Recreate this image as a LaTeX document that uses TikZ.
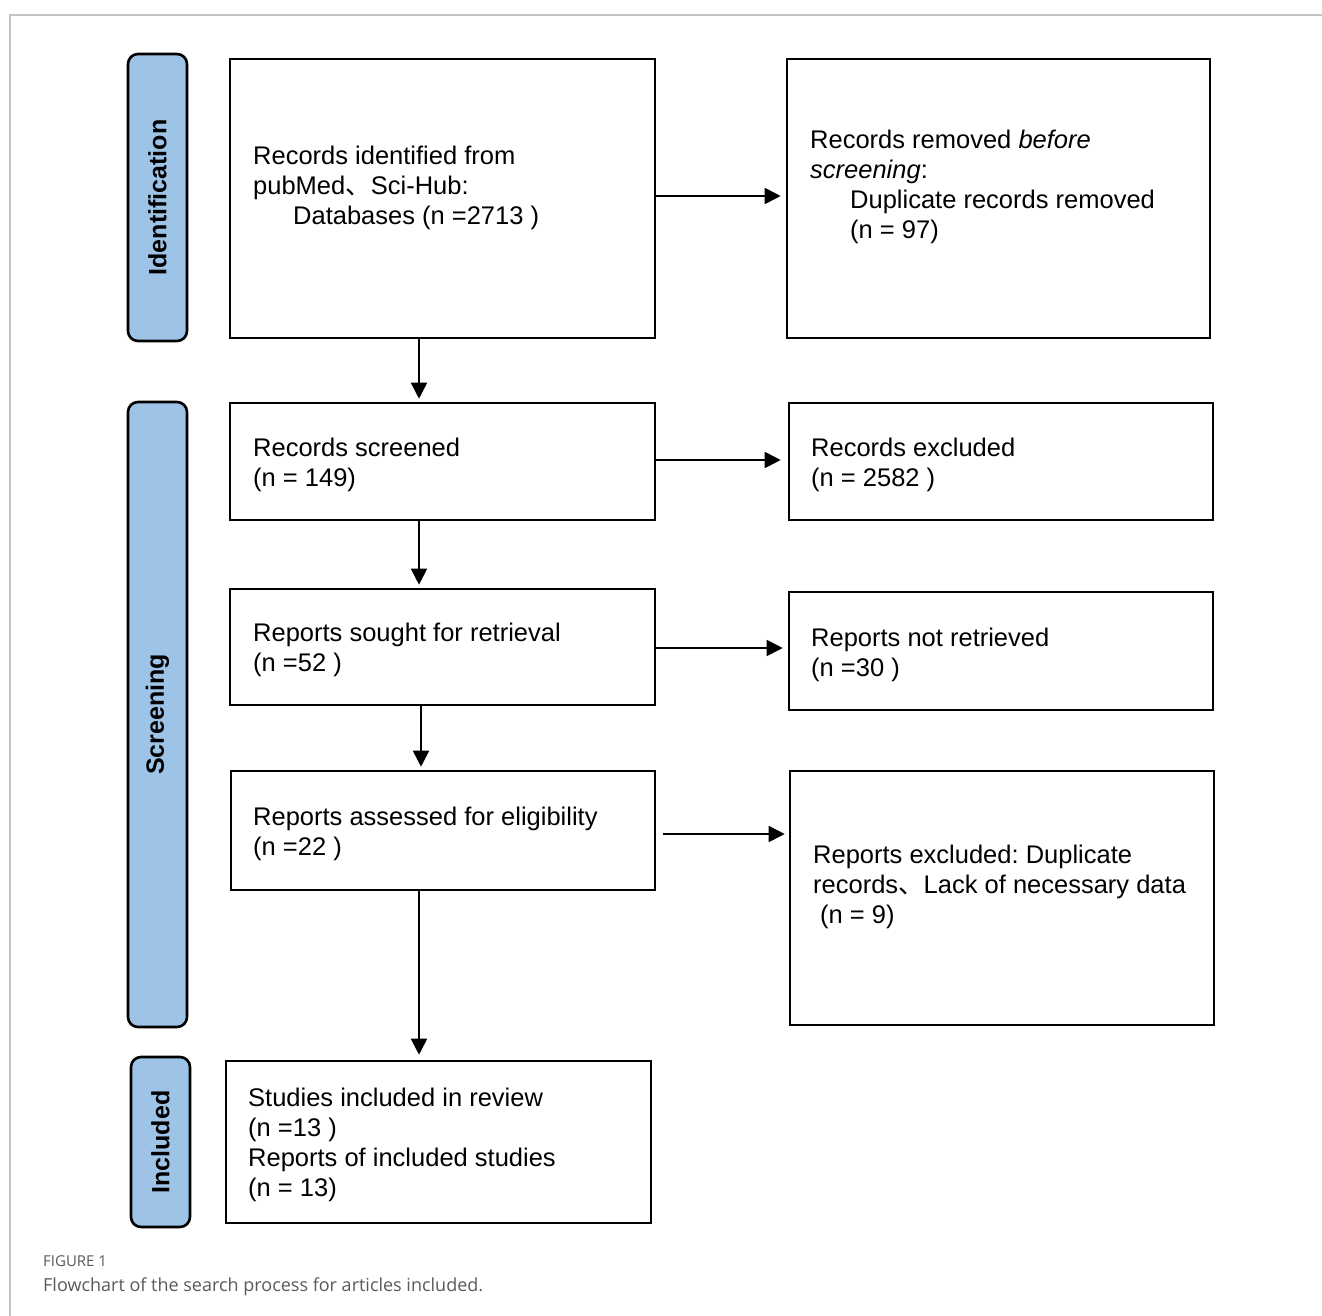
\documentclass[tikz,border=0pt]{standalone}
\usepackage{fontspec}
\setmainfont{Liberation Sans}
\newfontfamily\cjk{Noto Sans CJK SC}
\newfontfamily\capfont{Open Sans}
\usetikzlibrary{arrows.meta}
\definecolor{barblue}{HTML}{9DC3E6}
\definecolor{capgray}{HTML}{5A5A5A}
\definecolor{framegray}{HTML}{C4C4C4}
\frenchspacing
\tikzset{
  box/.style={draw=black, line width=2.6pt, inner sep=0pt, fill=white},
  bar/.style={draw=black, line width=2.6pt, fill=barblue, rounded corners=10pt, inner sep=0pt, rotate=90,
    font=\bfseries\fontsize{25}{30}\selectfont},
  tx/.style={anchor=base west, inner sep=0pt, align=left, font=\fontsize{25.5}{30}\selectfont\frenchspacing},
  arr/.style={line width=1.8pt, -{Triangle[length=16pt,width=16pt]}}
}
\begin{document}
\begin{tikzpicture}[x=1pt,y=-1pt]
\useasboundingbox (0,0) rectangle (1322,1316);
\fill[white] (0,0) rectangle (1322,1316);
% outer frame (top and left only)
\draw[framegray, line width=1.8pt] (10,1316) -- (10,15) -- (1322,15);

% phase bars
\node[bar, minimum width=287pt, minimum height=59pt] (pid) at (157.5,197.5) {Identification};
\node[bar, minimum width=625pt, minimum height=59pt] (psc) at (157.5,714.5) {Screening};
\node[bar, minimum width=170pt, minimum height=59pt] (pin) at (160.5,1142) {Included};

% boxes
\node[box, minimum width=425pt, minimum height=279pt] (b1) at (442.5,198.5) {};
\node[box, minimum width=423pt, minimum height=279pt] (b2) at (998.5,198.5) {};
\node[box, minimum width=425pt, minimum height=117pt] (b3) at (442.5,461.5) {};
\node[box, minimum width=424pt, minimum height=117pt] (b4) at (1001,461.5) {};
\node[box, minimum width=425pt, minimum height=116pt] (b5) at (442.5,647) {};
\node[box, minimum width=424pt, minimum height=118pt] (b6) at (1001,651) {};
\node[box, minimum width=424pt, minimum height=119pt] (b7) at (443,830.5) {};
\node[box, minimum width=424pt, minimum height=254pt] (b8) at (1002,898) {};
\node[box, minimum width=425pt, minimum height=162pt] (b9) at (438.5,1142) {};

% texts (anchored at the baseline of their last line)
\node[tx] (t1) at (253,225) {Records identified from\\pubMed{\cjk 、}Sci-Hub:\\\hspace*{40pt}Databases (n =2713 )};
\node[tx] (t2) at (810,238) {Records removed \textit{before}\\\textit{screening}:\\\hspace*{40pt}Duplicate records removed\\\hspace*{40pt}(n = 97)};
\node[tx] (t3) at (253,486) {Records screened\\(n = 149)};
\node[tx] (t4) at (811,486) {Records excluded\\(n = 2582 )};
\node[tx] (t5) at (253,671) {Reports sought for retrieval\\(n =52 )};
\node[tx] (t6) at (811,676) {Reports not retrieved\\(n =30 )};
\node[tx] (t7) at (253,855) {Reports assessed for eligibility\\(n =22 )};
\node[tx] (t8) at (813,923) {Reports excluded: Duplicate\\records{\cjk 、}Lack of necessary data\\\hspace*{7pt}(n = 9)};
\node[tx] (t9) at (248,1196) {Studies included in review\\(n =13 )\\Reports of included studies\\(n = 13)};

% caption
\node[anchor=base west, inner sep=0pt, text=capgray, font=\capfont\fontsize{15}{18}\selectfont] (cap1) at (43,1266) {FIGURE 1};
\node[anchor=base west, inner sep=0pt, text=capgray, font=\capfont\fontsize{18}{21}\selectfont] (cap2) at (43,1291) {Flowchart of the search process for articles included.};

% connectors
\coordinate (cxa) at (419,0);
\coordinate (cxb) at (421,0);
\draw[arr, shorten >=3pt] (b1.south -| cxa) -- (b3.north -| cxa);
\draw[arr, shorten >=3pt] (b3.south -| cxa) -- (b5.north -| cxa);
\draw[arr, shorten >=3pt] (b5.south -| cxb) -- (b7.north -| cxb);
\draw[arr, shorten >=5pt] (b7.south -| cxa) -- (b9.north -| cxa);
\draw[arr, shorten >=5pt] ([yshift=2.5pt]b1.east) -- ([yshift=2.5pt]b1.east -| b2.west);
\draw[arr, shorten >=7pt] ([yshift=1.5pt]b3.east) -- ([yshift=1.5pt]b3.east -| b4.west);
\draw[arr, shorten >=5pt] ([yshift=-1pt]b5.east) -- ([yshift=-1pt]b5.east -| b6.west);
\draw[arr, shorten <=7pt, shorten >=4pt] ([yshift=-3.5pt]b7.east) -- ([yshift=-3.5pt]b7.east -| b8.west);
\end{tikzpicture}
\end{document}
